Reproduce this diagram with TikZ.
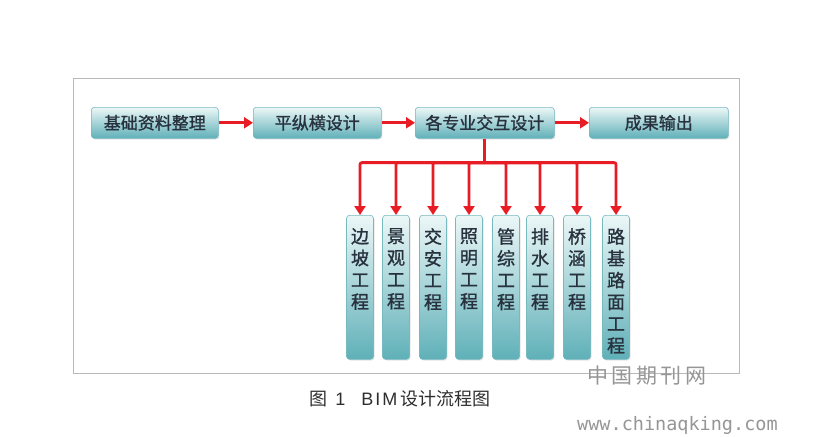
\documentclass[tikz,border=0pt]{standalone}
\usepackage{fontspec}
\newfontfamily\cjk{Noto Sans CJK SC}
\newfontfamily\cjkb[FakeBold=1.2]{Noto Sans CJK SC}
\newfontfamily\latf{Liberation Sans}
\newfontfamily\monof{DejaVu Sans Mono}
\usetikzlibrary{arrows.meta,shadows}
\definecolor{tealb}{RGB}{95,176,184}
\definecolor{teall}{RGB}{236,247,247}
\definecolor{tealedge}{RGB}{120,185,192}
\definecolor{txt}{RGB}{40,50,62}
\definecolor{arr}{RGB}{232,28,36}
\definecolor{framec}{RGB}{185,185,185}
\definecolor{wm}{RGB}{150,150,150}
\begin{document}
\begin{tikzpicture}[x=1pt,y=-1pt,
  topbox/.style={rounded corners=3pt, draw=tealedge, line width=0.6pt,
    top color=teall, bottom color=tealb, minimum height=31pt, inner sep=0pt,
    anchor=north west, font=\cjkb\fontsize{17}{17}\selectfont, text=txt,
    drop shadow={shadow xshift=1pt, shadow yshift=-1.2pt, opacity=0.2}},
  vbox/.style={rounded corners=3pt, draw=tealedge, line width=0.6pt,
    top color=teall, bottom color=tealb, minimum height=144pt, minimum width=27pt,
    inner sep=0pt, anchor=north,
    drop shadow={shadow xshift=1pt, shadow yshift=-1.2pt, opacity=0.2}},
  vtext/.style={anchor=north, inner sep=0pt, align=center, text=txt,
    font=\cjkb\fontsize{18}{21.8}\selectfont},
  redarrow/.style={draw=arr, line width=2.8pt, -{Triangle[length=9pt,width=11pt]}},
  redline/.style={draw=arr, line width=2.8pt}
]
\useasboundingbox (0,0) rectangle (837,436);
\fill[white] (0,0) rectangle (837,436);
\draw[framec, line width=0.9pt] (73,78) rectangle (739,373);

% top row
\node[topbox, minimum width=127pt] (b1) at (91,107) {基础资料整理};
\node[topbox, minimum width=128pt] (b2) at (253,107) {平纵横设计};
\node[topbox, minimum width=139pt] (b3) at (415,107) {各专业交互设计};
\node[topbox, minimum width=139pt] (b4) at (589,107) {成果输出};

\draw[redarrow] (b1) -- (b2);
\draw[redarrow] (b2) -- (b3);
\draw[redarrow] (b3) -- (b4);

% vertical boxes
\node[vbox] (v1) at (360,215) {};
\node[vbox] (v2) at (396,215) {};
\node[vbox] (v3) at (433,215) {};
\node[vbox] (v4) at (469,215) {};
\node[vbox] (v5) at (506,215) {};
\node[vbox] (v6) at (540,215) {};
\node[vbox] (v7) at (577,215) {};
\node[vbox] (v8) at (616,215) {};

\node[vtext] (t1) at ([yshift=-13pt]v1.north) {边\\坡\\工\\程};
\node[vtext] (t2) at ([yshift=-13pt]v2.north) {景\\观\\工\\程};
\node[vtext] (t3) at ([yshift=-13pt]v3.north) {交\\安\\工\\程};
\node[vtext] (t4) at ([yshift=-13pt]v4.north) {照\\明\\工\\程};
\node[vtext] (t5) at ([yshift=-13pt]v5.north) {管\\综\\工\\程};
\node[vtext] (t6) at ([yshift=-13pt]v6.north) {排\\水\\工\\程};
\node[vtext] (t7) at ([yshift=-13pt]v7.north) {桥\\涵\\工\\程};
\node[vtext] (t8) at ([yshift=-13pt]v8.north) {路\\基\\路\\面\\工\\程};

% connectors
\coordinate (j) at ([yshift=-24pt]b3.south);
\draw[redline] (b3.south) -- (j);
\foreach \v in {v1,v2,v3,v4,v5,v6,v7,v8}{
  \draw[redarrow, rounded corners=2pt] (j) -| (\v.north);
}

% caption
\node[anchor=west, inner sep=0pt, text=black!82, font=\cjk\fontsize{18}{18}\selectfont] (cap) at (309,399)
  {图\hspace{0.45em}{\latf 1}\hspace{16pt}{\latf B\hspace{2pt}I\hspace{2pt}M}\hspace{3pt}设计流程图};

% watermark
\node[anchor=west, inner sep=0pt, text=wm, font=\cjk\fontsize{21}{21}\selectfont] (wm1) at (587,376) {中\,国\,期\,刊\,网};
\node[anchor=west, inner sep=0pt, text=wm, font=\monof\fontsize{18.5}{19}\selectfont] (wm2) at (577,425) {www.chinaqking.com};
\end{tikzpicture}
\end{document}
